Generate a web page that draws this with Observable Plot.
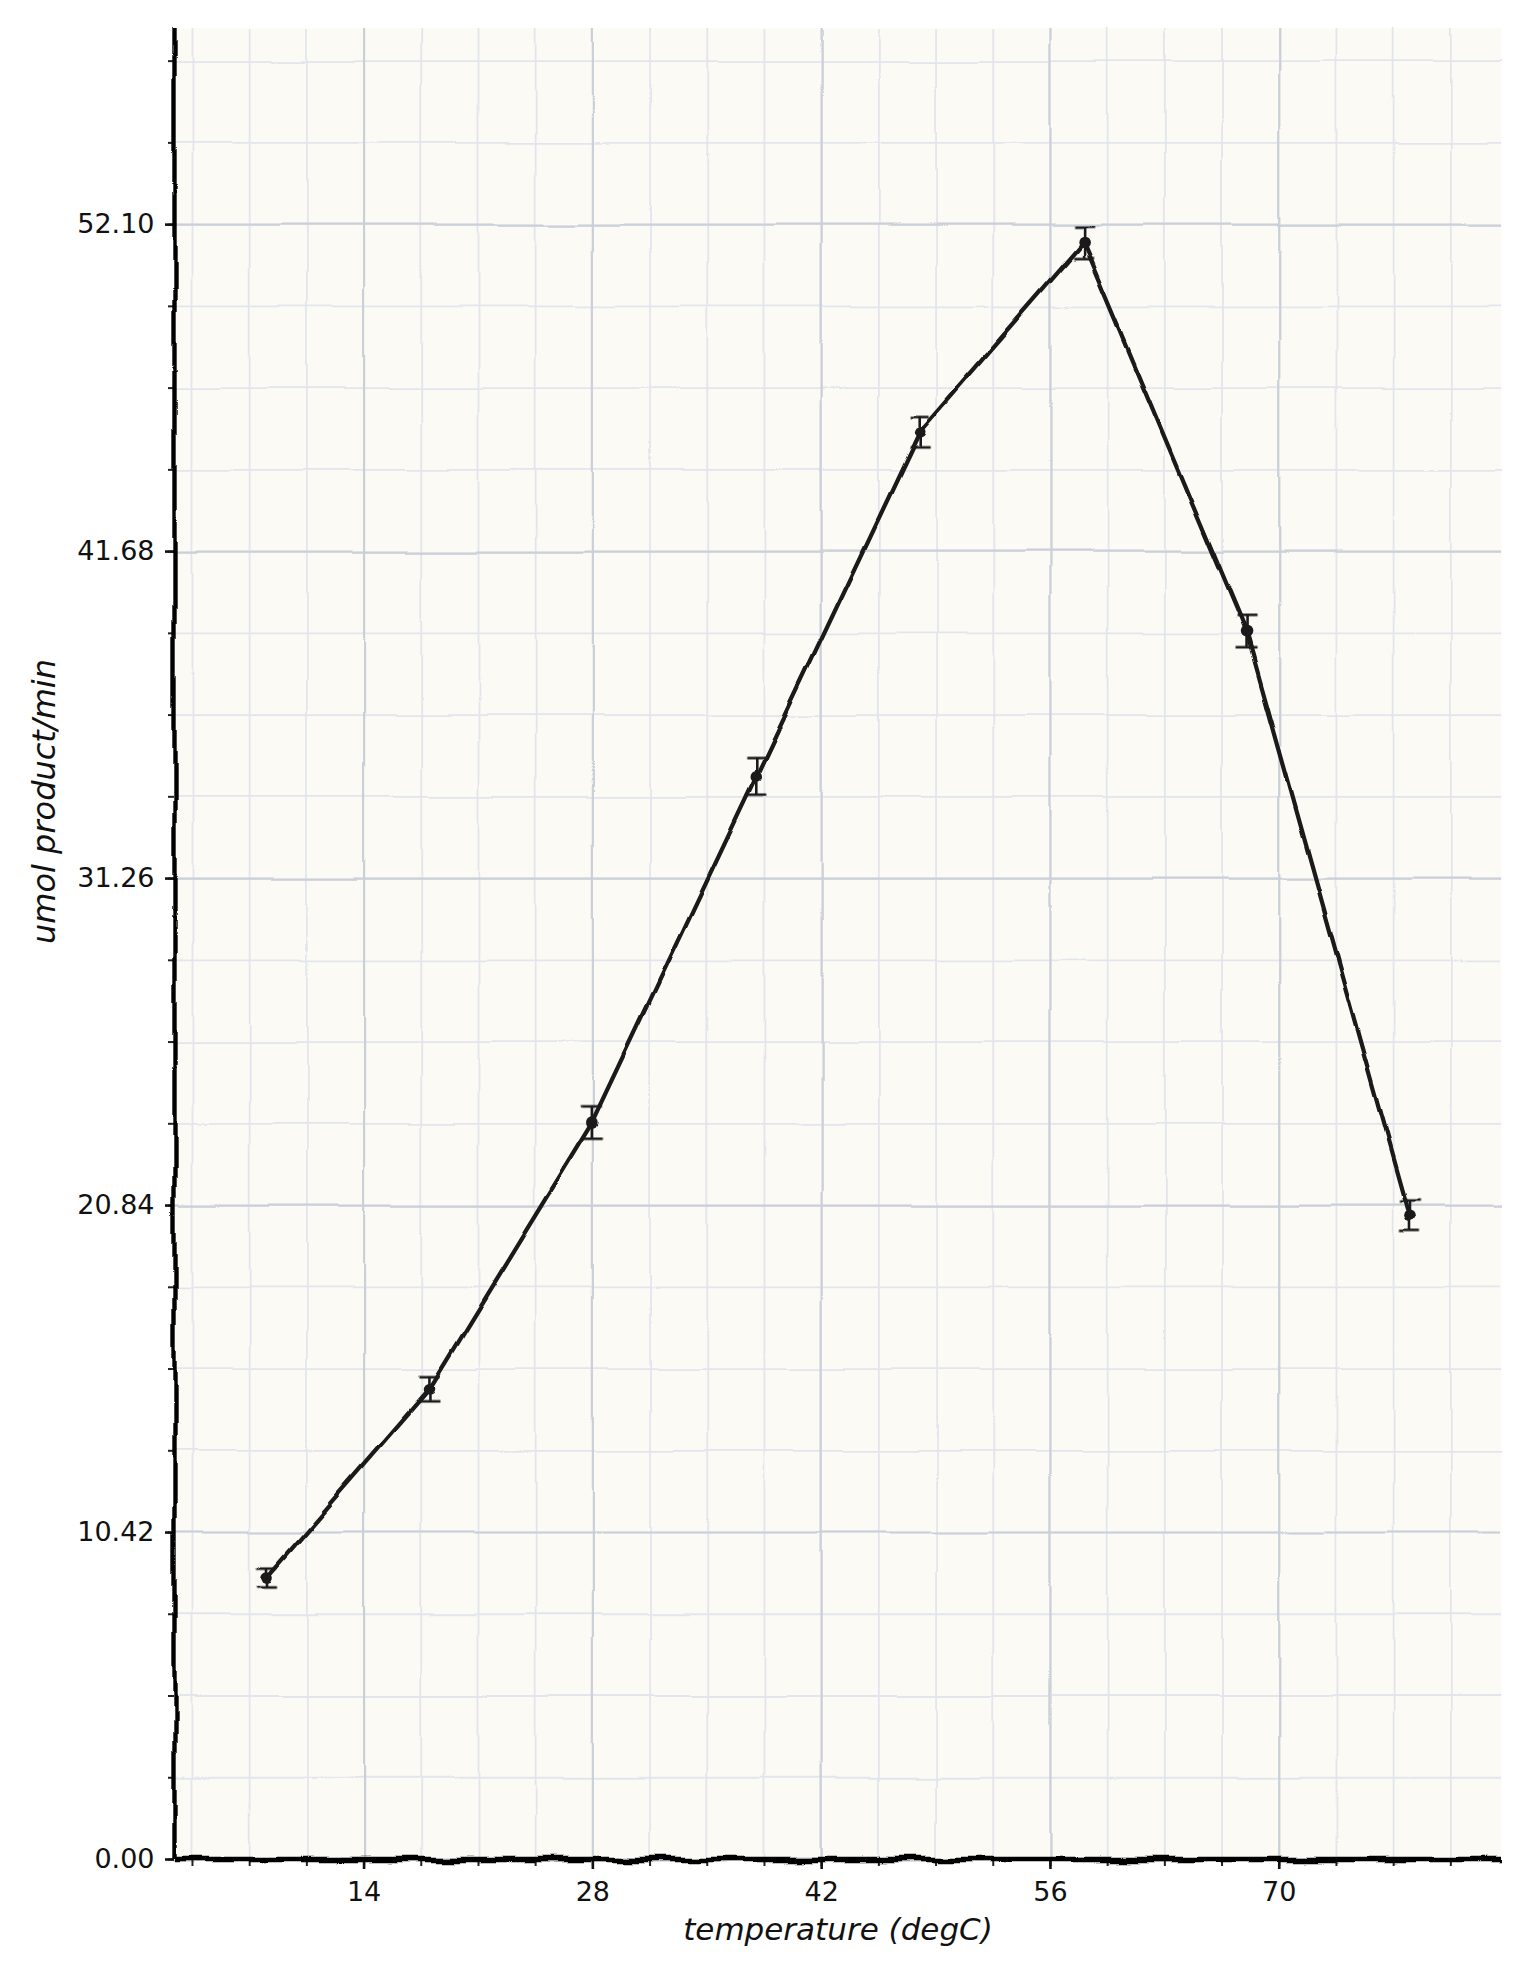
<!DOCTYPE html>
<html>
<head>
<meta charset="utf-8">
<script src="https://cdn.jsdelivr.net/npm/d3@7"></script>
<script src="https://cdn.jsdelivr.net/npm/@observablehq/plot@0.6"></script>
<style>
  html, body { margin: 0; padding: 0; background: #ffffff; }
  #chart { width: 1530px; height: 1980px; }
</style>
</head>
<body>
<div id="chart"></div>
<script>
// ---- data ----
const temps  = [8, 18, 28, 38, 48, 58, 68, 78];
const rates  = [9.0, 15.0, 23.5, 34.5, 45.5, 51.5, 39.1, 20.5];
const errors = [0.3, 0.4, 0.5, 0.6, 0.5, 0.5, 0.5, 0.5];

const xTicks = [14, 28, 42, 56, 70];
const yTicks = [0, 10.42, 20.84, 31.26, 41.68, 52.10];
const xMinorStep = 3.5;
const yMinorStep = 2.605;
const xDomain = [2.4, 83.6];
const yDomain = [0, 58.35];

const xLabel = "temperature (degC)";
const yLabel = "umol product/min";

const data = temps.map((t, i) => ({t, r: rates[i], e: errors[i]}));
const xMinor = d3.range(xMinorStep, xDomain[1], xMinorStep);
const yMinor = d3.range(0, yDomain[1], yMinorStep);

const cap = {
  draw(ctx, size) {
    const w = Math.sqrt(size / Math.PI);
    ctx.moveTo(-w, 0);
    ctx.lineTo(w, 0);
  }
};

const ink = "#1a1a1a";
const handFont = "DejaVu Sans";

const chart = Plot.plot({
  width: 1530,
  height: 1980,
  marginLeft: 174,
  marginRight: 29,
  marginTop: 28,
  marginBottom: 121,
  style: {fontFamily: "DejaVu Sans", background: "#ffffff", overflow: "visible"},
  x: {domain: xDomain, axis: null},
  y: {domain: yDomain, axis: null},
  marks: [
    Plot.frame({fill: "#fbfaf5", stroke: null}),
    // minor grid
    Plot.ruleX(xMinor, {stroke: "#e3e5ed", strokeWidth: 1.8, ariaDescription: "grid"}),
    Plot.ruleY(yMinor, {stroke: "#e3e5ed", strokeWidth: 1.8, ariaDescription: "grid"}),
    // major grid
    Plot.ruleX(xTicks, {stroke: "#cbcfd7", strokeWidth: 2.2, ariaDescription: "grid"}),
    Plot.ruleY(yTicks, {stroke: "#cbcfd7", strokeWidth: 2.2, ariaDescription: "grid"}),
    // ticks
    Plot.axisY(yMinor, {anchor: "left", tickSize: 6, tickFormat: () => "", label: null, strokeWidth: 2, stroke: "#222"}),
    Plot.axisY(yTicks, {anchor: "left", tickSize: 9, tickPadding: 11, tickFormat: d3.format(".2f"),
      fontSize: 27, label: null, strokeWidth: 2.6, stroke: "#111", fill: "#111"}),
    Plot.axisX(xMinor, {anchor: "bottom", tickSize: 7, tickFormat: () => "", label: null, strokeWidth: 2, stroke: "#222"}),
    Plot.axisX(xTicks, {anchor: "bottom", tickSize: 10, tickPadding: 12, tickFormat: d3.format("d"),
      fontSize: 27, label: null, strokeWidth: 2.6, stroke: "#111", fill: "#111"}),
    // axis spines
    Plot.ruleX([xDomain[0]], {stroke: "#000", strokeWidth: 4.4, ariaDescription: "spineV"}),
    Plot.ruleY([yDomain[0]], {stroke: "#000", strokeWidth: 5.6, ariaDescription: "spineH"}),
    // data
    Plot.line(data, {x: "t", y: "r", stroke: ink, strokeWidth: 4.2, ariaDescription: "ink"}),
    Plot.ruleX(data, {x: "t", y1: d => d.r - d.e, y2: d => d.r + d.e, stroke: ink, strokeWidth: 2.6, ariaDescription: "ink"}),
    Plot.dot(data, {x: "t", y: d => d.r + d.e, symbol: cap, r: 10, stroke: ink, strokeWidth: 2.6, fill: "none", ariaDescription: "ink"}),
    Plot.dot(data, {x: "t", y: d => d.r - d.e, symbol: cap, r: 10, stroke: ink, strokeWidth: 2.6, fill: "none", ariaDescription: "ink"}),
    Plot.dot(data, {x: "t", y: "r", r: 5.8, fill: ink, stroke: null, ariaDescription: "ink"}),
    // axis titles
    Plot.text([xLabel], {frameAnchor: "bottom", dy: 80, fontSize: 31, fontStyle: "italic",
      fontFamily: handFont, fill: "#111", text: d => d}),
    Plot.text([yLabel], {frameAnchor: "left", dx: -130, rotate: -90, fontSize: 32, fontStyle: "italic",
      fontFamily: handFont, fill: "#111", text: d => d})
  ]
});

// hand-drawn wiggle via SVG displacement filters (style only)
const svgNS = "http://www.w3.org/2000/svg";
const defs = document.createElementNS(svgNS, "defs");
function addFilter(id, freq, scale, seed) {
  const f = document.createElementNS(svgNS, "filter");
  f.setAttribute("id", id);
  f.setAttribute("filterUnits", "userSpaceOnUse");
  f.setAttribute("x", "-20"); f.setAttribute("y", "-20");
  f.setAttribute("width", "1570"); f.setAttribute("height", "2020");
  f.setAttribute("color-interpolation-filters", "sRGB");
  const t = document.createElementNS(svgNS, "feTurbulence");
  t.setAttribute("type", "fractalNoise");
  t.setAttribute("baseFrequency", freq);
  t.setAttribute("numOctaves", "1");
  t.setAttribute("seed", seed);
  t.setAttribute("result", "noise");
  const d = document.createElementNS(svgNS, "feDisplacementMap");
  d.setAttribute("in", "SourceGraphic");
  d.setAttribute("in2", "noise");
  d.setAttribute("scale", scale);
  d.setAttribute("xChannelSelector", "R");
  d.setAttribute("yChannelSelector", "G");
  f.appendChild(t); f.appendChild(d);
  defs.appendChild(f);
}
addFilter("wgrid", "0.008", "6", "3");
addFilter("wspineV", "0.016", "11", "7");
addFilter("wspineH", "0.028", "12", "11");
addFilter("wink", "0.018", "9", "5");
chart.insertBefore(defs, chart.firstChild);
const map = {grid: "wgrid", spineV: "wspineV", spineH: "wspineH", ink: "wink"};
for (const [k, v] of Object.entries(map)) {
  chart.querySelectorAll(`[aria-description="${k}"]`).forEach(g => g.setAttribute("filter", `url(#${v})`));
}

document.getElementById("chart").appendChild(chart);
</script>
</body>
</html>
